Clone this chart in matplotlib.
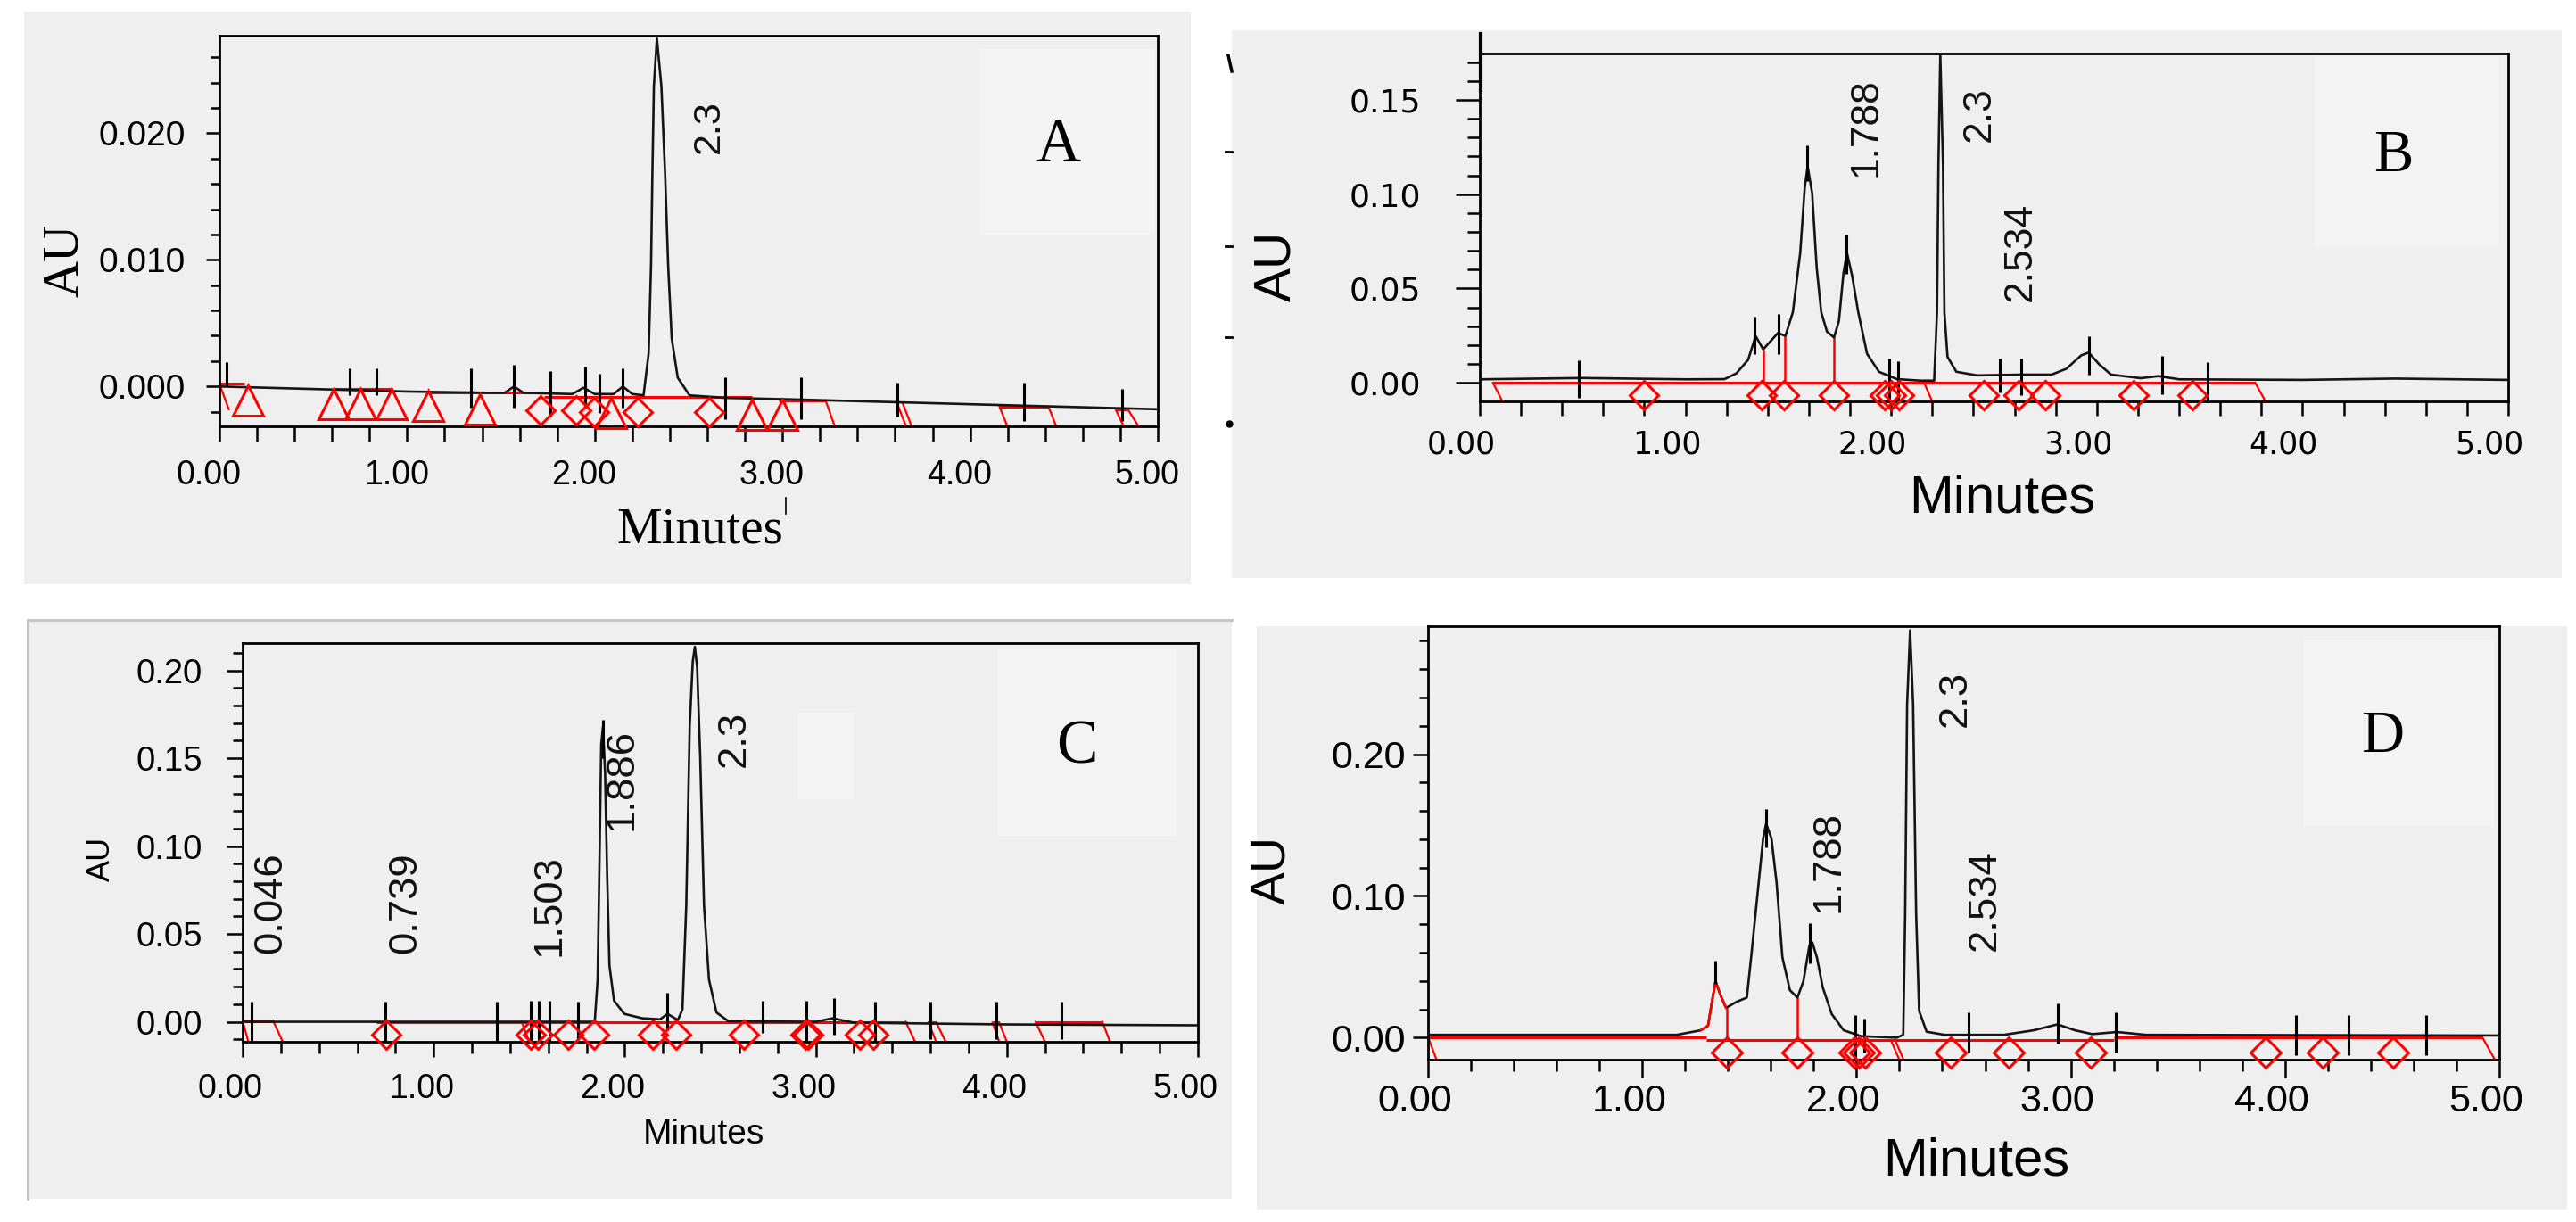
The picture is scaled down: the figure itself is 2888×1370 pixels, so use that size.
import matplotlib
matplotlib.use('Agg')
import matplotlib.pyplot as plt
from matplotlib import font_manager as fm
from matplotlib.patches import Rectangle
from matplotlib.lines import Line2D
from matplotlib.ticker import MultipleLocator, FormatStrFormatter
from matplotlib.transforms import ScaledTranslation

W, H = 2888, 1370
GREY = '#efefef'
LIGHT = '#f3f3f3'
RED = '#ff0000'
SANS = 'Liberation Sans'
SERIF = 'Liberation Serif'

# ---------------- panel A ----------------
a_time = [0.00, 0.50, 1.00, 1.45, 1.52, 1.57, 1.62, 1.88, 1.94, 2.00, 2.10, 2.15, 2.20, 2.26,
          2.287, 2.300, 2.307, 2.315, 2.331, 2.355, 2.375, 2.391, 2.410, 2.442, 2.505,
          2.70, 3.00, 3.50, 4.00, 4.50, 5.00]
a_au = [0.0000, -0.0002, -0.0004, -0.0005, -0.0005, 0.0000, -0.0005, -0.0006, -0.0001, -0.0006,
        -0.0006, 0.0000, -0.0006, -0.0007, 0.0026, 0.0096, 0.0167, 0.0237, 0.0275, 0.0237,
        0.0167, 0.0096, 0.0038, 0.0007, -0.0007, -0.0009, -0.0010, -0.0012, -0.0014, -0.0016, -0.0018]
a_tick_t = [0.037, 0.695, 0.835, 1.34, 1.568, 1.762, 1.948, 2.024, 2.147, 2.694, 3.097, 3.613, 4.285, 4.808]
a_tick_hi = [0.0019, 0.0014, 0.0014, 0.0014, 0.0017, 0.0012, 0.0016, 0.0010, 0.0014, 0.0007, 0.0007, 0.0003, 0.0003, -0.0002]
a_tick_lo = [0.0000, -0.0007, -0.0007, -0.0017, -0.0017, -0.0024, -0.0015, -0.0021, -0.0017, -0.0026, -0.0026, -0.0024, -0.0027, -0.0027]
a_tri_t = [0.15, 0.607, 0.753, 0.916, 1.112, 1.387, 2.088, 2.836, 3.00]
a_tri_au = [-0.0011, -0.0014, -0.0014, -0.0014, -0.0015, -0.0018, -0.0021, -0.0022, -0.0022]
a_dia_t = [1.71, 1.90, 1.995, 2.227, 2.608]
a_dia_au = [-0.0019, -0.0019, -0.0020, -0.0020, -0.0020]
a_seg_t0 = [0.0, 0.607, 1.112, 1.73, 2.98, 4.157, 4.775]
a_seg_t1 = [0.135, 0.916, 1.73, 2.836, 3.23, 4.418, 4.84]
a_seg_au = [0.0002, -0.0002, -0.0005, -0.0008, -0.0011, -0.0016, -0.0018]
a_sl_t0 = [0.0, 3.23, 3.61, 3.64, 4.157, 4.418, 4.775, 4.84]
a_sl_au0 = [0.0002, -0.0011, -0.0013, -0.0013, -0.0016, -0.0016, -0.0018, -0.0018]
a_sl_t1 = [0.05, 3.28, 3.66, 3.69, 4.20, 4.46, 4.82, 4.90]
a_sl_au1 = [-0.0018, -0.0032, -0.0032, -0.0032, -0.0032, -0.0032, -0.0032, -0.0032]
a_labels = ['2.3']
a_lab_t = [2.608]
a_lab_au = [0.0205]

# ---------------- panel B ----------------
b_time = [0.00, 0.50, 1.00, 1.19, 1.248, 1.305, 1.341, 1.378, 1.45, 1.486, 1.522, 1.558, 1.58,
          1.594, 1.616, 1.638, 1.66, 1.688, 1.722, 1.746, 1.768, 1.785, 1.811, 1.84, 1.883,
          1.941, 2.028, 2.144, 2.209, 2.223, 2.23, 2.239, 2.252, 2.259, 2.274, 2.317, 2.418,
          2.635, 2.78, 2.852, 2.924, 2.96, 3.011, 3.069, 3.213, 3.30, 3.40, 4.00, 4.45, 5.00]
b_au = [0.0018, 0.0025, 0.0018, 0.0019, 0.0050, 0.0122, 0.0248, 0.0177, 0.0264, 0.0248, 0.0374,
        0.0690, 0.1036, 0.1147, 0.1005, 0.0610, 0.0374, 0.0271, 0.0240, 0.0327, 0.0579, 0.0690,
        0.0563, 0.0374, 0.0153, 0.0058, 0.0019, 0.0011, 0.0011, 0.0374, 0.1160, 0.1740, 0.1160,
        0.0374, 0.0137, 0.0058, 0.0039, 0.0043, 0.0043, 0.0074, 0.0145, 0.0160, 0.0098, 0.0043,
        0.0024, 0.0035, 0.0018, 0.0015, 0.0022, 0.0015]
b_tick_t = [0.481, 1.334, 1.454, 1.59, 1.782, 1.99, 2.035, 2.527, 2.631, 2.96, 3.317, 3.539]
b_tick_hi = [0.0120, 0.0350, 0.0366, 0.1257, 0.0784, 0.0129, 0.0114, 0.0129, 0.0129, 0.0248, 0.0142, 0.0110]
b_tick_lo = [-0.0080, 0.0153, 0.0153, 0.1068, 0.0579, -0.0099, -0.0099, -0.0052, -0.0068, 0.0043, -0.0059, -0.0093]
b_drop_t = [1.38, 1.483, 1.722]
b_drop_top = [0.0177, 0.0248, 0.0240]
b_dia_t = [0.80, 1.37, 1.48, 1.72, 1.97, 2.00, 2.04, 2.45, 2.62, 2.75, 3.18, 3.465]
b_dia_au = [-0.0066] * 12
b_seg_t0 = [0.064]
b_seg_t1 = [3.77]
b_seg_au = [0.0]
b_sl_t0 = [0.064, 2.16, 3.77]
b_sl_au0 = [0.0, 0.0, 0.0]
b_sl_t1 = [0.11, 2.20, 3.82]
b_sl_au1 = [-0.0099, -0.0099, -0.0099]
b_labels = ['1.788', '2.3', '2.534']
b_lab_t = [1.88, 2.43, 2.628]
b_lab_au = [0.1356, 0.1423, 0.0693]

# ---------------- panel C ----------------
c_time = [0.00, 1.00, 1.843, 1.858, 1.869, 1.877, 1.886, 1.897, 1.908, 1.92, 1.944, 1.998, 2.092,
          2.185, 2.224, 2.278, 2.302, 2.322, 2.34, 2.356, 2.367, 2.379, 2.395, 2.415, 2.441,
          2.48, 2.543, 3.00, 3.087, 3.20, 4.00, 5.00]
c_au = [0.0000, 0.0000, 0.0000, 0.024, 0.100, 0.158, 0.168, 0.142, 0.083, 0.032, 0.012, 0.0045,
        0.0020, 0.0014, 0.0045, 0.0010, 0.007, 0.066, 0.168, 0.205, 0.2135, 0.2017, 0.151, 0.066,
        0.024, 0.0053, 0.0003, 0.0000, 0.0020, -0.0005, -0.0015, -0.0020]
c_tick_t = [0.046, 0.745, 1.329, 1.507, 1.549, 1.604, 1.757, 1.886, 2.221, 2.724, 2.951, 3.097,
            3.308, 3.60, 3.947, 4.288]
c_tick_hi = [0.0115, 0.0115, 0.0115, 0.012, 0.012, 0.012, 0.0115, 0.172, 0.0165, 0.012, 0.012,
             0.0135, 0.0115, 0.0115, 0.0115, 0.0115]
c_tick_lo = [-0.0114, -0.0114, -0.0114, -0.0114, -0.0114, -0.0114, -0.010, 0.150, -0.0048,
             -0.0065, -0.011, -0.0075, -0.0114, -0.010, -0.010, -0.010]
c_dia_t = [0.75, 1.508, 1.547, 1.703, 1.839, 2.146, 2.27, 2.625, 2.947, 2.962, 3.23, 3.30]
c_dia_au = [-0.0074] * 12
c_seg_t0 = [0.0, 0.70, 3.59, 3.925, 4.15]
c_seg_t1 = [0.16, 3.48, 3.63, 3.96, 4.50]
c_seg_au = [0.0005, 0.0, -0.0003, -0.0004, 0.0]
c_sl_t0 = [0.0, 0.16, 1.46, 3.47, 3.59, 3.63, 3.925, 3.96, 4.15, 4.50]
c_sl_au0 = [0.0005, 0.0005, 0.0, 0.0, -0.0003, -0.0003, -0.0004, -0.0004, 0.0, 0.0]
c_sl_t1 = [0.03, 0.21, 1.50, 3.52, 3.63, 3.68, 3.96, 4.00, 4.20, 4.54]
c_sl_au1 = [-0.0114] * 10
c_labels = ['0.046', '0.739', '1.503', '1.886', '2.3']
c_lab_t = [0.148, 0.851, 1.605, 1.983, 2.574]
c_lab_au = [0.0678, 0.0678, 0.0663, 0.138, 0.161]

# ---------------- panel D ----------------
d_time = [0.00, 1.00, 1.162, 1.273, 1.307, 1.325, 1.342, 1.367, 1.391, 1.439, 1.488, 1.508, 1.536,
          1.564, 1.578, 1.603, 1.627, 1.654, 1.689, 1.724, 1.752, 1.78, 1.794, 1.815, 1.842,
          1.884, 1.94, 2.022, 2.188, 2.218, 2.227, 2.236, 2.25, 2.264, 2.278, 2.292, 2.327,
          2.41, 2.688, 2.827, 2.938, 3.02, 3.10, 3.216, 3.35, 4.00, 5.00]
d_au = [0.0020, 0.0020, 0.0020, 0.0052, 0.0084, 0.0252, 0.0398, 0.0293, 0.0210, 0.0252, 0.0283,
        0.0566, 0.0986, 0.1405, 0.1510, 0.1405, 0.1090, 0.0566, 0.0335, 0.0283, 0.0398, 0.0650,
        0.0671, 0.0566, 0.0356, 0.0167, 0.0052, 0.0010, 0.0000, 0.0020, 0.0880, 0.2350, 0.2874,
        0.2350, 0.0880, 0.0189, 0.0042, 0.0020, 0.0020, 0.0052, 0.0094, 0.0052, 0.0025, 0.0040,
        0.0020, 0.0018, 0.0015]
d_red_from, d_red_to = 3, 9   # first small peak is drawn red
d_tick_t = [1.339, 1.578, 1.782, 1.995, 2.036, 2.523, 2.938, 3.21, 4.05, 4.298, 4.66]
d_tick_hi = [0.0545, 0.1615, 0.0807, 0.0157, 0.0136, 0.0178, 0.0241, 0.0178, 0.0159, 0.0159, 0.0159]
d_tick_lo = [0.0378, 0.134, 0.0524, -0.0157, -0.0105, -0.0105, -0.0042, -0.0105, -0.0124, -0.0124, -0.0124]
d_drop_t = [1.395, 1.724]
d_drop_top = [0.021, 0.0283]
d_dia_t = [1.393, 1.724, 1.99, 2.01, 2.04, 2.44, 2.712, 3.095, 3.91, 4.177, 4.505]
d_dia_au = [-0.0105] * 11
d_seg_t0 = [0.0, 1.30, 3.20]
d_seg_t1 = [1.30, 3.20, 4.92]
d_seg_au = [0.0005, -0.0017, 0.0005]
d_sl_t0 = [0.0, 2.16, 2.18, 4.92]
d_sl_au0 = [0.0005, -0.0017, -0.0017, 0.0005]
d_sl_t1 = [0.04, 2.20, 2.22, 4.98]
d_sl_au1 = [-0.0157] * 4
d_labels = ['2.3', '1.788', '2.534']
d_lab_t = [2.462, 1.869, 2.598]
d_lab_au = [0.239, 0.124, 0.097]


def has_font(name):
    try:
        fm.findfont(fm.FontProperties(family=name), fallback_to_default=False)
        return True
    except ValueError:
        return False


if has_font('Liberation Sans Narrow'):
    NARROW, NSCALE = 'Liberation Sans Narrow', 1.0
else:
    NARROW, NSCALE = SANS, 0.84

fig = plt.figure(figsize=(W / 100, H / 100), dpi=100)


def box(x0, y0, x1, y1, color, z=-3):
    fig.add_artist(Rectangle((x0 / W, 1 - y1 / H), (x1 - x0) / W, (y1 - y0) / H,
                             transform=fig.transFigure, facecolor=color,
                             edgecolor='none', zorder=z))


def fline(xs, ys, **kw):
    fig.add_artist(Line2D([x / W for x in xs], [1 - y / H for y in ys],
                          transform=fig.transFigure, **kw))


def ftext(x, y, s, **kw):
    fig.text(x / W, 1 - y / H, s, **kw)


def make_axes(l, t, r, b):
    return fig.add_axes([l / W, 1 - b / H, (r - l) / W, (b - t) / H])


def style_axes(ax, ylim, ymaj, ymin, yfmt, ylen, yminlen, ypad, yfont, yfs,
               xlen, xminlen, xpad, xfont, xfs, xshift):
    ax.set_facecolor('none')
    ax.set_xlim(0, 5)
    ax.set_ylim(*ylim)
    ax.xaxis.set_major_locator(MultipleLocator(1))
    ax.xaxis.set_minor_locator(MultipleLocator(0.2))
    ax.yaxis.set_major_locator(MultipleLocator(ymaj))
    ax.yaxis.set_minor_locator(MultipleLocator(ymin))
    ax.xaxis.set_major_formatter(FormatStrFormatter('%.2f'))
    ax.yaxis.set_major_formatter(FormatStrFormatter(yfmt))
    for s in ax.spines.values():
        s.set_linewidth(2)
        s.set_color('black')
    ax.tick_params(axis='y', which='major', length=ylen * 0.72, width=1.8, pad=ypad,
                   labelsize=yfs, labelfontfamily=yfont)
    ax.tick_params(axis='y', which='minor', length=yminlen * 0.72, width=1.8)
    ax.tick_params(axis='x', which='major', length=xlen * 0.72, width=1.8, pad=xpad,
                   labelsize=xfs, labelfontfamily=xfont)
    ax.tick_params(axis='x', which='minor', length=xminlen * 0.72, width=1.8)
    shift = ScaledTranslation(xshift / 100, 0, fig.dpi_scale_trans)
    for lab in ax.get_xticklabels():
        lab.set_transform(lab.get_transform() + shift)


def draw_trace(ax, time, au, tk_t, tk_lo, tk_hi, s0, s1, sv, l0, lv0, l1, lv1):
    ax.hlines(sv, s0, s1, colors=RED, lw=2.2, zorder=2)
    for i in range(len(l0)):
        ax.plot([l0[i], l1[i]], [lv0[i], lv1[i]], color=RED, lw=1.6, zorder=2)
    ax.plot(time, au, color='#151515', lw=1.9, zorder=3)
    ax.vlines(tk_t, tk_lo, tk_hi, colors='black', lw=2.2, zorder=4)


def peak_labels(ax, labels, lt, lv, fs):
    for s, t, v in zip(labels, lt, lv):
        ax.text(t, v, s, rotation=90, ha='center', va='center',
                fontsize=fs * NSCALE, family=NARROW, color='#111111', zorder=6)


# panel backgrounds
box(27, 13, 1335, 655, GREY)
box(1381, 34, 2872, 648, GREY)
box(31, 695, 1381, 1344, GREY)
box(1409, 702, 2878, 1356, GREY)
box(1098, 55, 1295, 263, LIGHT, -2)
box(2595, 63, 2802, 277, LIGHT, -2)
box(1119, 728, 1319, 937, LIGHT, -2)
box(895, 799, 957, 896, LIGHT, -2)
box(2583, 717, 2796, 926, LIGHT, -2)
fline([31, 1381], [695, 695], color='#c6c6c6', lw=2.2)
fline([31, 31], [695, 1344], color='#c6c6c6', lw=2.2)

# ---- A ----
axA = make_axes(246, 40, 1298, 478.3)
style_axes(axA, (-0.00317, 0.0277), 0.010, 0.002, '%.3f', 15, 10, 16.5, SANS, 28,
           17, 17, 14, SANS, 27, -12)
draw_trace(axA, a_time, a_au, a_tick_t, a_tick_lo, a_tick_hi, a_seg_t0, a_seg_t1, a_seg_au,
           a_sl_t0, a_sl_au0, a_sl_t1, a_sl_au1)
axA.plot(a_tri_t, a_tri_au, ls='none', marker='^', ms=25, mfc='none', mec=RED, mew=2.2,
         clip_on=False, zorder=5)
axA.plot(a_dia_t, a_dia_au, ls='none', marker='D', ms=16, mfc='none', mec=RED, mew=2.2,
         clip_on=False, zorder=5)
peak_labels(axA, a_labels, a_lab_t, a_lab_au, 37)
ftext(72.6, 292, 'AU', rotation=90, ha='center', va='center', fontsize=41, family=SERIF)
ftext(785, 608, 'Minutes', ha='center', va='baseline', fontsize=41, family=SERIF)
fline([881, 881], [558, 576], color='black', lw=1.2)
ftext(1186, 181, 'A', ha='center', va='baseline', fontsize=50, family=SERIF)

# ---- B ----
axB = make_axes(1659, 60, 2812, 450)
style_axes(axB, (-0.0099, 0.1746), 0.05, 0.01, '%.2f', 27, 14, 28, 'DejaVu Sans', 26,
           16, 16, 11, 'DejaVu Sans', 25, -21)
draw_trace(axB, b_time, b_au, b_tick_t, b_tick_lo, b_tick_hi, b_seg_t0, b_seg_t1, b_seg_au,
           b_sl_t0, b_sl_au0, b_sl_t1, b_sl_au1)
axB.vlines(b_drop_t, 0.0, b_drop_top, colors=RED, lw=1.8, zorder=2)
axB.plot(b_dia_t, b_dia_au, ls='none', marker='D', ms=16, mfc='none', mec=RED, mew=2.2,
         clip_on=False, zorder=5)
peak_labels(axB, b_labels, b_lab_t, b_lab_au, 38)
ftext(1431, 298, 'AU', rotation=90, ha='center', va='center', fontsize=41, family=SANS)
ftext(2244.5, 574.6, 'Minutes', ha='center', va='baseline', fontsize=43, family=SANS)
ftext(2683, 192, 'B', ha='center', va='baseline', fontsize=48, family=SERIF)
fline([1660, 1660], [38, 101], color='black', lw=3)
for yy in (170, 276, 378):
    fline([1374, 1381], [yy, yy], color='black', lw=2)
fline([1377, 1381], [62, 80], color='black', lw=2.5)
fline([1378], [475], color='black', marker='o', ms=5, ls='none')

# ---- C ----
axC = make_axes(272, 721, 1343, 1168)
style_axes(axC, (-0.0114, 0.2156), 0.05, 0.01, '%.2f', 18, 11, 19.5, SANS, 27.5,
           17, 13, 13, SANS, 27, -14)
draw_trace(axC, c_time, c_au, c_tick_t, c_tick_lo, c_tick_hi, c_seg_t0, c_seg_t1, c_seg_au,
           c_sl_t0, c_sl_au0, c_sl_t1, c_sl_au1)
axC.plot(c_dia_t, c_dia_au, ls='none', marker='D', ms=16, mfc='none', mec=RED, mew=2.2,
         clip_on=False, zorder=5)
peak_labels(axC, c_labels, c_lab_t, c_lab_au, 39)
ftext(113, 962.7, 'AU', rotation=90, ha='center', va='center', fontsize=26, family=SANS)
ftext(789, 1282, 'Minutes', ha='center', va='baseline', fontsize=28, family=SANS)
ftext(1207, 855, 'C', ha='center', va='baseline', fontsize=50, family=SERIF)

# ---- D ----
axD = make_axes(1601, 701.7, 2802, 1188.3)
style_axes(axD, (-0.0157, 0.2905), 0.10, 0.02, '%.2f', 17, 10, 6, SANS, 31,
           20, 13, 5, NARROW, 37 * NSCALE, -15)
draw_trace(axD, d_time, d_au, d_tick_t, d_tick_lo, d_tick_hi, d_seg_t0, d_seg_t1, d_seg_au,
           d_sl_t0, d_sl_au0, d_sl_t1, d_sl_au1)
axD.plot(d_time[d_red_from:d_red_to], d_au[d_red_from:d_red_to], color=RED, lw=1.9, zorder=3)
axD.vlines(d_drop_t, -0.0017, d_drop_top, colors=RED, lw=1.8, zorder=2)
axD.plot(d_dia_t, d_dia_au, ls='none', marker='D', ms=17, mfc='none', mec=RED, mew=2.2,
         clip_on=False, zorder=5)
peak_labels(axD, d_labels, d_lab_t, d_lab_au, 39)
ftext(1426, 975, 'AU', rotation=90, ha='center', va='center', fontsize=40, family=SANS)
ftext(2216, 1318, 'Minutes', ha='center', va='baseline', fontsize=43, family=SANS)
ftext(2671, 843, 'D', ha='center', va='baseline', fontsize=48, family=SERIF)

fig.savefig('out.png', dpi=100, facecolor='white')
